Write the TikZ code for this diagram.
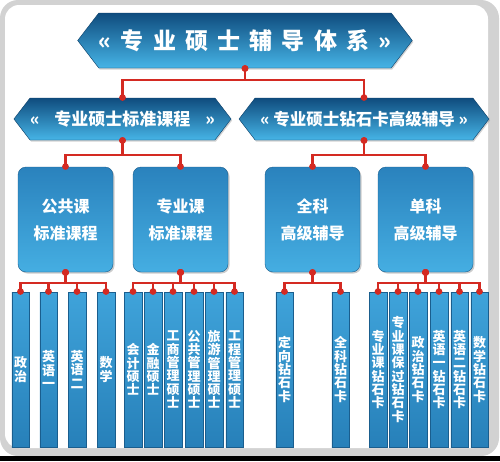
\documentclass[tikz,border=0pt]{standalone}
\usepackage{fontspec}
\newfontfamily\cjk{Noto Sans CJK SC}
\usetikzlibrary{shapes.symbols, arrows.meta, calc, shadows}
\definecolor{hexTop}{HTML}{0F4C7E}
\definecolor{hexBot}{HTML}{46B4E6}
\definecolor{hexEdge}{HTML}{0B3F68}
\definecolor{boxTop}{HTML}{2A82BD}
\definecolor{boxBot}{HTML}{45AEE2}
\definecolor{boxEdge}{HTML}{1A5E8E}
\definecolor{barTop}{HTML}{3FA3DA}
\definecolor{barBot}{HTML}{2780B9}
\definecolor{linkRed}{HTML}{D42A22}
\definecolor{frameGray}{HTML}{D2D2D2}

\begin{document}
\begin{tikzpicture}[
    x=1pt, y=-1pt,
    hexbox/.style={signal, signal to=west and east, signal pointer angle=105, top color=hexTop, bottom color=hexBot, draw=hexEdge, thin, text=white, inner sep=0pt, drop shadow={opacity=0.35, shadow xshift=1pt, shadow yshift=-1.5pt}},
    headbox/.style={rectangle, rounded corners=8pt, top color=boxTop, bottom color=boxBot, draw=boxEdge, thin, text=white, align=center, minimum width=95pt, minimum height=105pt, inner sep=0pt, font=\cjk\bfseries\fontsize{16}{27}\selectfont, drop shadow={opacity=0.4, shadow xshift=1.5pt, shadow yshift=-1.5pt}},
    barbox/.style={rectangle, top color=barTop, bottom color=barBot, draw=boxEdge, thin, text=white, align=center, minimum width=17.5pt, minimum height=155pt, inner sep=0pt, font=\cjk\bfseries\fontsize{13}{13.3}\selectfont},
    link/.style={draw=linkRed, line width=2.5pt, {Circle[length=6.5pt]}-{Circle[length=6.5pt]}, shorten <=-3pt, shorten >=-3pt}
]

    \useasboundingbox (0,0) rectangle (500,461);

    % frame
    \fill [frameGray] (0,0) [rounded corners=18pt] rectangle (499,456);
    \fill [white] (5,5) [rounded corners=14pt] rectangle (488,448);
    \fill [black] (0,456) rectangle (500,461);

    % top
    \node [hexbox, minimum width=330pt, minimum height=55pt, font=\cjk\bfseries\fontsize{23}{23}\selectfont\addfontfeatures{LetterSpace=40}] (system) at (245, 40.5) {«专业硕士辅导体系»};

    % second level
    \node [hexbox, minimum width=215pt, minimum height=42pt, font=\cjk\bfseries\fontsize{17}{17}\selectfont] (standard) at (122.5, 119) {«\hspace{15pt}专业硕士标准课程\hspace{15pt}»};
    \node [hexbox, minimum width=250pt, minimum height=42pt, font=\cjk\bfseries\fontsize{16.5}{17}\selectfont] (diamond) at (364, 119) {« 专业硕士钻石卡高级辅导 »};

    % third level
    \node [headbox] (public) at (65.5, 219.5) {公共课\\标准课程};
    \node [headbox] (major) at (180.5, 219.5) {专业课\\标准课程};
    \node [headbox] (fullsub) at (312.5, 219.5) {全科\\高级辅导};
    \node [headbox] (singlesub) at (425.5, 219.5) {单科\\高级辅导};

    % bars
    \node [barbox] (politics) at (20.5, 369.5) {政\\治};
    \node [barbox] (engone) at (48.5, 369.5) {英\\语\\一};
    \node [barbox] (engtwo) at (77, 369.5) {英\\语\\二};
    \node [barbox] (math) at (106, 369.5) {数\\学};
    \node [barbox] (account) at (133, 369.5) {会\\计\\硕\\士};
    \node [barbox] (finance) at (153, 369.5) {金\\融\\硕\\士};
    \node [barbox] (mba) at (173, 369.5) {工\\商\\管\\理\\硕\\士};
    \node [barbox] (mpa) at (194, 369.5) {公\\共\\管\\理\\硕\\士};
    \node [barbox] (mta) at (214, 369.5) {旅\\游\\管\\理\\硕\\士};
    \node [barbox] (mem) at (234.5, 369.5) {工\\程\\管\\理\\硕\\士};

    \node [barbox] (directed) at (284.5, 369.5) {定\\向\\钻\\石\\卡};
    \node [barbox] (allcard) at (340.5, 369.5) {全\\科\\钻\\石\\卡};
    \node [barbox] (majorcard) at (378, 369.5) {专\\业\\课\\钻\\石\\卡};
    \node [barbox] (passcard) at (398, 369.5) {专\\业\\课\\保\\过\\钻\\石\\卡};
    \node [barbox] (policard) at (418, 369.5) {政\\治\\钻\\石\\卡};
    \node [barbox] (engonecard) at (439, 369.5) {英\\语\\一\\钻\\石\\卡};
    \node [barbox] (engtwocard) at (459.5, 369.5) {英\\语\\二\\钻\\石\\卡};
    \node [barbox] (mathcard) at (479.5, 369.5) {数\\学\\钻\\石\\卡};

    % connectors
    \draw [link] (system.south) |- ($(system.south)!0.4!(standard.north)$) -| (standard.north);
    \draw [link] (system.south) |- ($(system.south)!0.4!(diamond.north)$) -| (diamond.north);

    \draw [link] (standard.south) |- ($(standard.south)!0.55!(public.north)$) -| (public.north);
    \draw [link] (standard.south) |- ($(standard.south)!0.55!(major.north)$) -| (major.north);
    \draw [link] (diamond.south) |- ($(diamond.south)!0.55!(fullsub.north)$) -| (fullsub.north);
    \draw [link] (diamond.south) |- ($(diamond.south)!0.55!(singlesub.north)$) -| (singlesub.north);

    \draw [link] (public.south) |- ($(public.south)!0.55!(politics.north)$) -| (politics.north);
    \draw [link] (public.south) |- ($(public.south)!0.55!(engone.north)$) -| (engone.north);
    \draw [link] (public.south) |- ($(public.south)!0.55!(engtwo.north)$) -| (engtwo.north);
    \draw [link] (public.south) |- ($(public.south)!0.55!(math.north)$) -| (math.north);

    \draw [link] (major.south) |- ($(major.south)!0.55!(account.north)$) -| (account.north);
    \draw [link] (major.south) |- ($(major.south)!0.55!(finance.north)$) -| (finance.north);
    \draw [link] (major.south) |- ($(major.south)!0.55!(mba.north)$) -| (mba.north);
    \draw [link] (major.south) |- ($(major.south)!0.55!(mpa.north)$) -| (mpa.north);
    \draw [link] (major.south) |- ($(major.south)!0.55!(mta.north)$) -| (mta.north);
    \draw [link] (major.south) |- ($(major.south)!0.55!(mem.north)$) -| (mem.north);

    \draw [link] (fullsub.south) |- ($(fullsub.south)!0.55!(directed.north)$) -| (directed.north);
    \draw [link] (fullsub.south) |- ($(fullsub.south)!0.55!(allcard.north)$) -| (allcard.north);

    \draw [link] (singlesub.south) |- ($(singlesub.south)!0.55!(majorcard.north)$) -| (majorcard.north);
    \draw [link] (singlesub.south) |- ($(singlesub.south)!0.55!(passcard.north)$) -| (passcard.north);
    \draw [link] (singlesub.south) |- ($(singlesub.south)!0.55!(policard.north)$) -| (policard.north);
    \draw [link] (singlesub.south) |- ($(singlesub.south)!0.55!(engonecard.north)$) -| (engonecard.north);
    \draw [link] (singlesub.south) |- ($(singlesub.south)!0.55!(engtwocard.north)$) -| (engtwocard.north);
    \draw [link] (singlesub.south) |- ($(singlesub.south)!0.55!(mathcard.north)$) -| (mathcard.north);

\end{tikzpicture}
\end{document}
